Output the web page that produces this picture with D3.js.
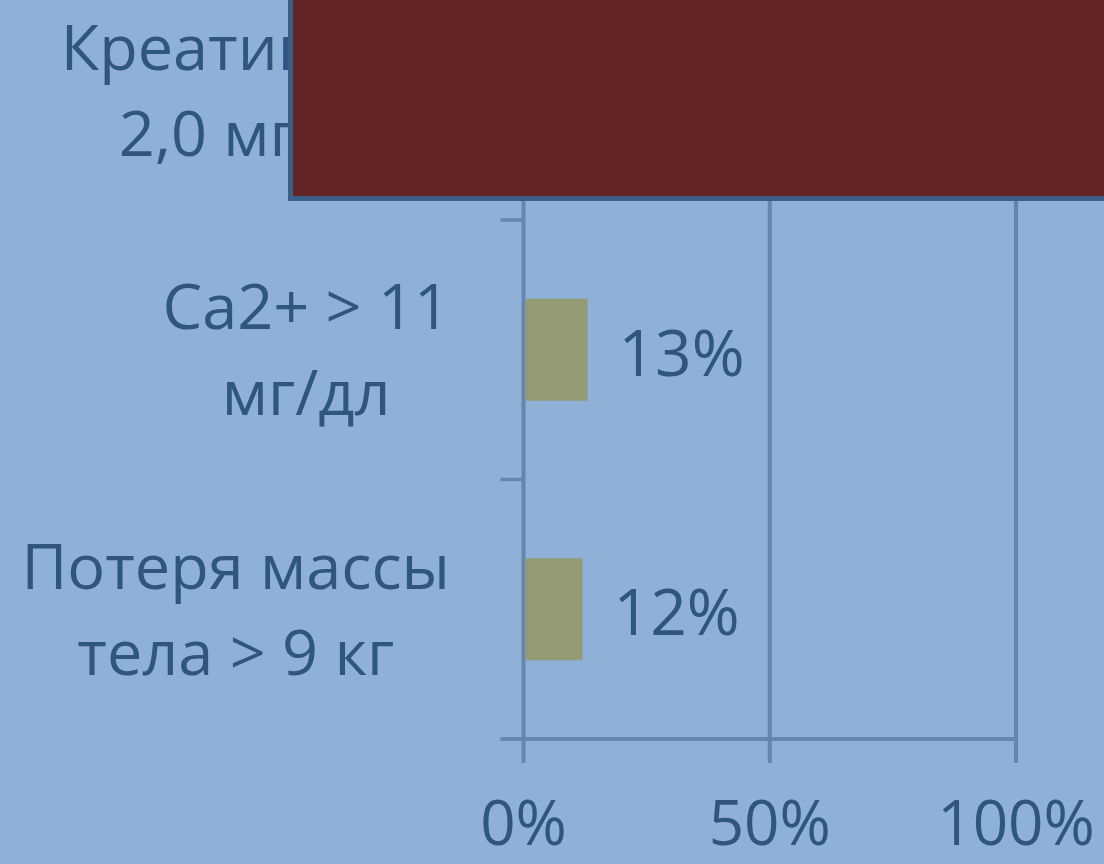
<!DOCTYPE html>
<html>
<head>
<meta charset="utf-8">
<script src="https://cdn.jsdelivr.net/npm/d3@7"></script>
<style>
  html, body { margin: 0; padding: 0; background: #8FB0D7; overflow: hidden; }
  svg { display: block; }
  text { font-family: "Open Sans", "Noto Sans", sans-serif; fill: #30557F; }
</style>
</head>
<body>
<svg id="chart" width="1104" height="864"></svg>
<script>
// ---- data ----
const categories = [
  ["Креатинин >", "2,0 мг/дл"],
  ["Ca2+ > 11", "мг/дл"],
  ["Потеря массы", "тела > 9 кг"]
];
const categoryKeys = ["Креатинин > 2,0 мг/дл", "Ca2+ > 11 мг/дл", "Потеря массы тела > 9 кг"];
const values = [0.19, 0.13, 0.12];          // top value is hidden under the overlay (estimate)
const valueLabels = ["19%", "13%", "12%"];
const tickValues = [0, 0.5, 1];
const tickLabels = ["0%", "50%", "100%"];

// ---- layout ----
const svg = d3.select("#chart");
const x0 = 523.5, x1 = 1016, yTop = -39.5, yBottom = 739;
const axisColor = "#6586B0";
const barColor = "#939A74";

const x = d3.scaleLinear().domain([0, 1]).range([x0, x1]);
const pad = 0.607;
const y = d3.scaleBand().domain(categoryKeys).range([yTop, yBottom])
  .paddingInner(pad).paddingOuter(pad / 2);

// gridlines (0%, 50%, 100%) plus ticks below axis
const grid = svg.append("g");
tickValues.forEach((v) => {
  grid.append("line")
    .attr("x1", x(v)).attr("x2", x(v))
    .attr("y1", 0).attr("y2", yBottom + 24)
    .attr("stroke", axisColor).attr("stroke-width", 4);
});

// x axis line
svg.append("line")
  .attr("x1", x0 - 23).attr("x2", x1)
  .attr("y1", yBottom).attr("y2", yBottom)
  .attr("stroke", axisColor).attr("stroke-width", 4);

// category boundary ticks on y axis
const step = y.step();
categoryKeys.forEach((k, i) => {
  const b = y(k) + y.bandwidth() + step * pad / 2;
  if (i < categoryKeys.length - 1) {
    svg.append("line")
      .attr("x1", x0 - 23).attr("x2", x0)
      .attr("y1", b).attr("y2", b)
      .attr("stroke", axisColor).attr("stroke-width", 3.5);
  }
});

// x tick labels
svg.append("g").selectAll("text").data(tickValues).join("text")
  .attr("x", d => x(d))
  .attr("y", 845)
  .attr("text-anchor", "middle")
  .style("font-size", "62px")
  .text((d, i) => tickLabels[i]);

// bars
svg.append("g").selectAll("rect").data(values).join("rect")
  .attr("x", x(0) + 2)
  .attr("y", (d, i) => y(categoryKeys[i]))
  .attr("width", d => x(d) - x(0) - 2)
  .attr("height", y.bandwidth())
  .attr("fill", barColor);

// value labels
svg.append("g").selectAll("text").data(values).join("text")
  .attr("x", d => x(d) + 31)
  .attr("y", (d, i) => y(categoryKeys[i]) + y.bandwidth() / 2 + 26)
  .attr("text-anchor", "start")
  .style("font-size", "64px")
  .text((d, i) => valueLabels[i]);

// category labels (centered lines, block right-aligned)
const lineGap = 86, capH = 45, rightEdge = 450;
categories.forEach((lines, i) => {
  const cy = y(categoryKeys[i]) + y.bandwidth() / 2;
  const g = svg.append("g");
  const texts = lines.map((ln, j) => g.append("text")
    .attr("y", cy - lineGap / 2 + capH / 2 + j * lineGap)
    .attr("text-anchor", "middle")
    .style("font-size", "63px")
    .text(ln));
  const maxW = d3.max(texts, t => t.node().getComputedTextLength());
  texts.forEach(t => t.attr("x", rightEdge - maxW / 2));
});

// overlay rectangle covering the top category
svg.append("rect")
  .attr("x", 290.5).attr("y", -20)
  .attr("width", 900).attr("height", 218.5)
  .attr("fill", "#632425")
  .attr("stroke", "#3B5E8B").attr("stroke-width", 5);
</script>
</body>
</html>
